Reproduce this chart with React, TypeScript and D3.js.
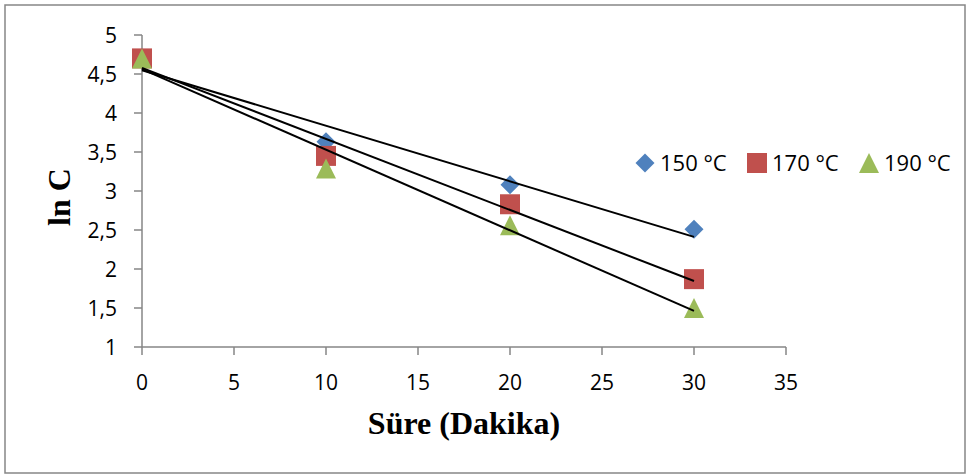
import React, { useEffect, useRef } from "react";
import * as d3 from "d3";

// Reaction time (minutes) and ln C values per temperature
const times = [0, 10, 20, 30];
const lnC150 = [4.7, 3.63, 3.08, 2.51];
const lnC170 = [4.7, 3.45, 2.83, 1.87];
const lnC190 = [4.7, 3.29, 2.56, 1.5];

const seriesNames = ["150 °C", "170 °C", "190 °C"];
const seriesColors = ["#4F81BD", "#C0504D", "#9BBB59"];

const xTicks = [0, 5, 10, 15, 20, 25, 30, 35];
const yTicks = [1, 1.5, 2, 2.5, 3, 3.5, 4, 4.5, 5];

const W = 968;
const H = 474;
const labelFont = "'Open Sans', 'Noto Sans', sans-serif";
const titleFont = "'Liberation Serif', 'Times New Roman', serif";

// Least-squares fit y = a + b x
function linearFit(xs: number[], ys: number[]) {
  const mx = d3.mean(xs) as number;
  const my = d3.mean(ys) as number;
  let num = 0;
  let den = 0;
  xs.forEach((x, i) => {
    num += (x - mx) * (ys[i] - my);
    den += (x - mx) * (x - mx);
  });
  const b = num / den;
  return { a: my - b * mx, b };
}

// Marker outlines centred on the origin: diamond, square, triangle
function markerPath(i: number) {
  const p = d3.path();
  if (i === 0) {
    const r = 9.5;
    p.moveTo(0, -r);
    p.lineTo(r, 0);
    p.lineTo(0, r);
    p.lineTo(-r, 0);
  } else if (i === 1) {
    p.rect(-10, -10, 20, 20);
  } else {
    p.moveTo(0, -10);
    p.lineTo(10, 10);
    p.lineTo(-10, 10);
  }
  p.closePath();
  return p.toString();
}

export default function App() {
  const ref = useRef<SVGSVGElement>(null);

  useEffect(() => {
    const svg = d3.select(ref.current);
    svg.selectAll("*").remove();

    const x = d3.scaleLinear().domain([0, 35]).range([142, 786]);
    const y = d3.scaleLinear().domain([1, 5]).range([347, 35]);
    const axisColor = "#868686";

    // outer frame
    svg
      .append("rect")
      .attr("x", 5)
      .attr("y", 5)
      .attr("width", 960)
      .attr("height", 468)
      .attr("fill", "#fff")
      .attr("stroke", axisColor)
      .attr("stroke-width", 1.5);

    // y axis
    const gy = svg.append("g");
    gy.append("line")
      .attr("x1", x(0))
      .attr("x2", x(0))
      .attr("y1", y(1))
      .attr("y2", y(5))
      .attr("stroke", axisColor)
      .attr("stroke-width", 1.5);
    yTicks.forEach((t) => {
      gy.append("line")
        .attr("x1", x(0) - 8)
        .attr("x2", x(0))
        .attr("y1", y(t))
        .attr("y2", y(t))
        .attr("stroke", axisColor)
        .attr("stroke-width", 1.5);
      gy.append("text")
        .attr("x", 117)
        .attr("y", y(t) + 7.5)
        .attr("text-anchor", "end")
        .attr("font-family", labelFont)
        .attr("font-size", 21)
        .attr("fill", "#000")
        .text(String(t).replace(".", ","));
    });

    // x axis
    const gx = svg.append("g");
    gx.append("line")
      .attr("x1", x(0))
      .attr("x2", x(35))
      .attr("y1", y(1))
      .attr("y2", y(1))
      .attr("stroke", axisColor)
      .attr("stroke-width", 1.5);
    xTicks.forEach((t) => {
      gx.append("line")
        .attr("x1", x(t))
        .attr("x2", x(t))
        .attr("y1", y(1))
        .attr("y2", y(1) + 8)
        .attr("stroke", axisColor)
        .attr("stroke-width", 1.5);
      gx.append("text")
        .attr("x", x(t))
        .attr("y", y(1) + 43)
        .attr("text-anchor", "middle")
        .attr("font-family", labelFont)
        .attr("font-size", 21)
        .attr("fill", "#000")
        .text(String(t));
    });

    const allSeries = [lnC150, lnC170, lnC190];

    // markers
    allSeries.forEach((vals, i) => {
      svg
        .append("g")
        .selectAll("path")
        .data(vals)
        .join("path")
        .attr("d", markerPath(i))
        .attr("transform", (d, j) => `translate(${x(times[j])},${y(d)})`)
        .attr("fill", seriesColors[i]);
    });

    // linear trend lines
    allSeries.forEach((vals) => {
      const { a, b } = linearFit(times, vals);
      svg
        .append("line")
        .attr("x1", x(0))
        .attr("y1", y(a))
        .attr("x2", x(30))
        .attr("y2", y(a + b * 30))
        .attr("stroke", "#000")
        .attr("stroke-width", 2);
    });

    // legend
    const legendX = [645, 757, 869];
    seriesNames.forEach((name, i) => {
      svg
        .append("path")
        .attr("d", markerPath(i))
        .attr("transform", `translate(${legendX[i]},163)`)
        .attr("fill", seriesColors[i]);
      svg
        .append("text")
        .attr("x", legendX[i] + 15)
        .attr("y", 171)
        .attr("font-family", labelFont)
        .attr("font-size", 22)
        .attr("fill", "#000")
        .text(name);
    });

    // axis titles
    svg
      .append("text")
      .attr("x", 464)
      .attr("y", 434)
      .attr("text-anchor", "middle")
      .attr("font-family", titleFont)
      .attr("font-weight", "bold")
      .attr("font-size", 32)
      .attr("fill", "#000")
      .text("Süre (Dakika)");
    svg
      .append("text")
      .attr("transform", "translate(70,197) rotate(-90)")
      .attr("text-anchor", "middle")
      .attr("font-family", titleFont)
      .attr("font-weight", "bold")
      .attr("font-size", 32)
      .attr("fill", "#000")
      .text("ln C");
  }, []);

  return (
    <svg
      ref={ref}
      width={W}
      height={H}
      style={{ position: "absolute", left: 0, top: 0, background: "#fff" }}
    />
  );
}
